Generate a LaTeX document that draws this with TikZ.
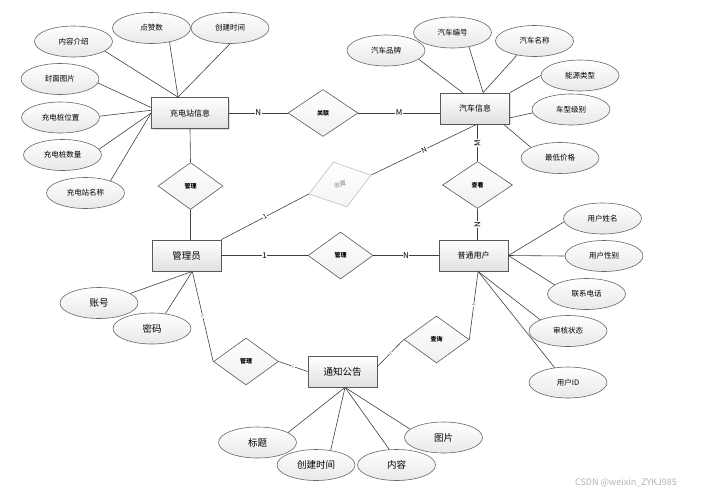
\documentclass[tikz,border=0pt]{standalone}
\usepackage{fontspec}
\setmainfont{Noto Sans CJK SC}
\usetikzlibrary{shapes.geometric,shadows}

\begin{document}
\begin{tikzpicture}[x=1pt, y=-1pt,
                entity/.style = {rectangle, draw=black!65, line width=0.8pt, top color=white, bottom color=black!12,
                                minimum width=69pt, minimum height=31pt, font=\fontsize{8}{9}\selectfont,
                                drop shadow={shadow xshift=1pt, shadow yshift=-1pt, opacity=0.25}},
                attr/.style = {ellipse, draw=black!60, line width=0.6pt, top color=white, bottom color=black!9,
                                minimum width=78pt, minimum height=31pt, inner sep=0pt, font=\fontsize{7.5}{8}\selectfont},
                bigattr/.style = {attr, font=\fontsize{9.5}{10}\selectfont},
                rel/.style = {diamond, draw=black!65, line width=0.6pt, top color=white, bottom color=black!6,
                                minimum width=65pt, minimum height=47pt, inner sep=0pt, font=\bfseries\fontsize{6}{6}\selectfont},
                conn/.style = {draw=black!75, line width=0.6pt},
                card/.style = {fill=white, inner sep=0.5pt, font=\fontsize{8}{8}\selectfont},
                tinycard/.style = {fill=white, inner sep=0.3pt, text=black!55, font=\fontsize{4.5}{4.5}\selectfont, sloped}
        ]
        \useasboundingbox (0,0) rectangle (713,496);

        % entities
        \node[entity, minimum width=77pt] (cs) at (190,113) {充电站信息};
        \node[entity] (car) at (475,108.5) {汽车信息};
        \node[entity, font=\fontsize{9.5}{10}\selectfont] (admin) at (186.5,255.5) {管理员};
        \node[entity] (user) at (473.5,255.5) {普通用户};
        \node[entity, font=\fontsize{9.5}{10}\selectfont] (notice) at (342.5,371.5) {通知公告};

        % relations
        \node[rel, minimum width=70pt] (link) at (323,113) {关联};
        \node[rel] (mgrtop) at (190.5,186) {管理};
        \node[rel, rotate=17, draw=black!25, bottom color=black!4, text=black!45, font=\fontsize{6}{6}\selectfont] (fav) at (340,184.5) {收藏};
        \node[rel, minimum width=70pt] (view) at (477.5,185) {查看};
        \node[rel] (mgrmid) at (340.5,255.5) {管理};
        \node[rel] (mgrlow) at (246,361.5) {管理};
        \node[rel] (query) at (436.5,339.5) {查询};

        % attributes
        \node[attr] (intro) at (73.5,41.5) {内容介绍};
        \node[attr] (likes) at (151.5,28) {点赞数};
        \node[attr] (ctimetop) at (230,28) {创建时间};
        \node[attr] (cover) at (60,79) {封面图片};
        \node[attr] (pos) at (60.5,117.5) {充电桩位置};
        \node[attr] (num) at (62.5,155) {充电桩数量};
        \node[attr] (sname) at (85.5,193) {充电站名称};

        \node[attr] (brand) at (386,50.5) {汽车品牌};
        \node[attr] (carno) at (452.5,32.5) {汽车编号};
        \node[attr] (cname) at (534.5,41) {汽车名称};
        \node[attr] (energy) at (580,75.5) {能源类型};
        \node[attr] (level) at (571,109.5) {车型级别};
        \node[attr] (price) at (560,158) {最低价格};

        \node[attr] (uname) at (602.5,218.5) {用户姓名};
        \node[attr] (usex) at (604,256) {用户性别};
        \node[attr] (tel) at (586.5,294) {联系电话};
        \node[attr] (audit) at (568,331) {审核状态};
        \node[attr] (uid) at (568,382.5) {用户ID};

        \node[bigattr] (acct) at (99,303) {账号};
        \node[bigattr] (pwd) at (152,328.5) {密码};

        \node[bigattr] (title) at (257.5,442.5) {标题};
        \node[bigattr] (ctimelow) at (316,465) {创建时间};
        \node[bigattr] (content) at (396.5,465) {内容};
        \node[bigattr] (pic) at (443.5,437.5) {图片};

        % attribute links
        \draw[conn] (intro.-17) -- (cs.127);
        \draw[conn] (likes.-38) -- (cs.127);
        \draw[conn] (ctimetop.south) -- (cs.127);
        \draw[conn] (cover.-6) -- (cs.172);
        \draw[conn] (pos.2) -- (cs.176);
        \draw[conn] (num.9) -- (cs.west);
        \draw[conn] (sname.26) -- (cs.west);

        \draw[conn] (brand.-15) -- (car.128);
        \draw[conn] (carno.-41) -- (car.63);
        \draw[conn] (cname.-141) -- (car.63);
        \draw[conn] (energy.west) -- (car.north east);
        \draw[conn] (level.185) -- (car.-15);
        \draw[conn] (price.160) -- (car.-29);

        \draw[conn] (uname.185) -- (user.east);
        \draw[conn] (usex.west) -- (user.east);
        \draw[conn] (tel.164) -- (user.east);
        \draw[conn] (audit.158) -- (user.-74);
        \draw[conn] (uid.132) -- (user.-74);

        \draw[conn] (acct.17) -- (admin.-70);
        \draw[conn] (pwd.48) -- (admin.-70);

        \draw[conn] (title.18) -- (notice.-81);
        \draw[conn] (ctimelow.45) -- (notice.-81);
        \draw[conn] (content.115) -- (notice.-81);
        \draw[conn] (pic.166) -- (notice.-81);

        % relation links
        \draw[conn] (cs.east) -- node[card] {N} (link.west);
        \draw[conn] (link.east) -- node[card] {M} (link.east -| car.west);
        \draw[conn] (cs.south) -- (mgrtop.north);
        \draw[conn] (mgrtop.south) -- (mgrtop.south |- admin.north);
        \draw[conn] (admin.north east) -- node[card, sloped, font=\fontsize{6.5}{6.5}\selectfont] {1} (fav.west);
        \draw[conn] (fav.east) -- node[card, sloped, font=\fontsize{7}{7}\selectfont] {N} (car.-84);
        \draw[conn] (view.north |- car.south) -- node[card, rotate=90] {M} (view.north);
        \draw[conn] (view.south) -- node[card, rotate=90] {N} (view.south |- user.north);
        \draw[conn] (admin.east) -- node[card] {1} (mgrmid.west);
        \draw[conn] (mgrmid.east) -- node[card] {N} (user.west);
        \draw[conn] (admin.-70) -- node[tinycard] {1} (mgrlow.west);
        \draw[conn] (mgrlow.east) -- node[tinycard] {1} (notice.west);
        \draw[conn] (notice.8) -- node[tinycard] {1} (query.west);
        \draw[conn] (query.east) -- node[tinycard] {1} (user.-74);

        \node[text=black!30, font=\fontsize{9}{10}\selectfont] (mark) at (626,483) {CSDN @weixin\_ZYKJ985};
\end{tikzpicture}
\end{document}
